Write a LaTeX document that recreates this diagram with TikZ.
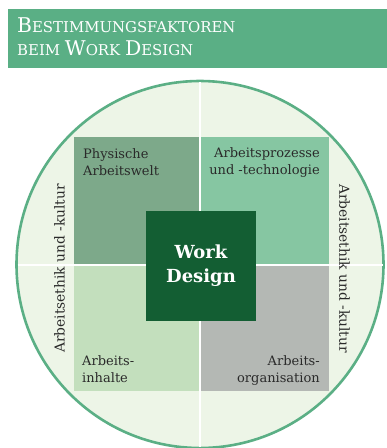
\documentclass[tikz,border=0pt]{standalone}
\usepackage{fontspec}
\setmainfont{DejaVu Serif}
\definecolor{band}{HTML}{5AAF85}
\definecolor{circfill}{HTML}{EDF5E7}
\definecolor{circline}{HTML}{5BAF85}
\definecolor{qtl}{HTML}{7DA98A}
\definecolor{qtr}{HTML}{86C6A2}
\definecolor{qbl}{HTML}{C3DFBD}
\definecolor{qbr}{HTML}{B4B8B4}
\definecolor{core}{HTML}{135E33}
\definecolor{ink}{HTML}{2A2A2A}
\newcommand\titlecap[1]{{\fontsize{20.3}{23}\selectfont #1}}
\begin{document}
\begin{tikzpicture}[x=1pt,y=-1pt,
  qtext/.style={text=ink, font=\fontsize{13}{16.8}\selectfont, inner sep=0pt},
  sidetext/.style={text=ink, font=\fontsize{13.8}{14}\selectfont, inner sep=0pt},
  sep/.style={white, line width=1.5pt}]
\useasboundingbox (0,0) rectangle (387,448);
% title band
\fill[band] (8,9) rectangle (387,68);
\node[anchor=base west, text=white, align=left, inner sep=0pt,
      font=\fontsize{14.9}{23}\selectfont] (title) at (17,55)
  {\titlecap{B}ESTIMMUNGSFAKTOREN\\BEIM \titlecap{W}ORK \titlecap{D}ESIGN};
% circle
\draw[fill=circfill, draw=circline, line width=2.6pt] (200,264.5) circle (183.5);
% quadrants
\fill[qtl] (74,137) rectangle (199.2,264.3);
\fill[qtr] (200.8,137) rectangle (329,264.3);
\fill[qbl] (74,265.7) rectangle (199.2,391);
\fill[qbr] (200.8,265.7) rectangle (329,391);
% separators
\coordinate (vt) at (200,82);
\coordinate (vb) at (200,447);
\coordinate (hl) at (17.5,265);
\coordinate (hr) at (382.5,265);
\draw[sep] (vt) -- (vb);
\draw[sep] (hl) -- (hr);
% centre
\node[fill=core, minimum size=110pt, inner sep=0pt, text=white, align=center,
      font=\bfseries\fontsize{18}{24}\selectfont] (wd) at (201,266) {Work\\Design};
% quadrant labels
\node[qtext, anchor=base west, align=left] (phys) at (83,175) {Physische\\Arbeitswelt};
\node[qtext, anchor=base east, align=right] (proz) at (320,174.3) {Arbeitsprozesse\\und -technologie};
\node[qtext, anchor=base west, align=left] (inh) at (82,382.7) {Arbeits-\\inhalte};
\node[qtext, anchor=base east, align=right] (org) at (320,382.7) {Arbeits-\\organisation};
% side labels
\node[sidetext, rotate=90] (ethl) at (59.5,268.5) {Arbeitsethik und -kultur};
\node[sidetext, rotate=-90] (ethr) at (344.5,268.5) {Arbeitsethik und -kultur};
\end{tikzpicture}
\end{document}
